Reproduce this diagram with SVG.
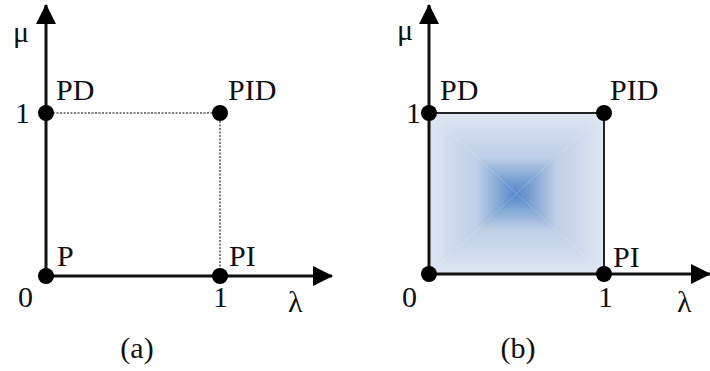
<svg xmlns="http://www.w3.org/2000/svg" width="710" height="371" viewBox="0 0 710 371">
<style>
text{font-family:"Liberation Serif","Times New Roman",Times,serif;font-size:30px;fill:#111}
.ax{stroke:#111;stroke-width:3;fill:none}
.dot{fill:#000}
.dotted{stroke:#555;stroke-width:1.5;stroke-dasharray:2 1.5;fill:none}
.edge{stroke:#222;stroke-width:2;fill:none}
</style>
<defs>
<marker id="arr" viewBox="0 0 20 20" refX="19" refY="10" markerWidth="20" markerHeight="20" markerUnits="userSpaceOnUse" orient="auto">
<path d="M0,0 L20,10 L0,20 Z" fill="#000"/>
</marker>
<linearGradient id="gT" gradientUnits="userSpaceOnUse" x1="0" y1="113" x2="0" y2="193.5"><stop offset="0" stop-color="#dfe7f2"/><stop offset="0.55" stop-color="#bfcfe6"/><stop offset="1" stop-color="#5287c8"/></linearGradient>
<linearGradient id="gB" gradientUnits="userSpaceOnUse" x1="0" y1="274" x2="0" y2="193.5"><stop offset="0" stop-color="#dfe7f2"/><stop offset="0.55" stop-color="#bfcfe6"/><stop offset="1" stop-color="#5287c8"/></linearGradient>
<linearGradient id="gL" gradientUnits="userSpaceOnUse" x1="429" y1="0" x2="516.5" y2="0"><stop offset="0" stop-color="#dfe7f2"/><stop offset="0.55" stop-color="#bfcfe6"/><stop offset="1" stop-color="#5287c8"/></linearGradient>
<linearGradient id="gR" gradientUnits="userSpaceOnUse" x1="604" y1="0" x2="516.5" y2="0"><stop offset="0" stop-color="#dfe7f2"/><stop offset="0.55" stop-color="#bfcfe6"/><stop offset="1" stop-color="#5287c8"/></linearGradient>
</defs>

<!-- Panel (a) -->
<g id="connectors-a">
<line class="ax" x1="46" y1="276" x2="46" y2="5" marker-end="url(#arr)"/>
<line class="ax" x1="46" y1="276" x2="332" y2="276" marker-end="url(#arr)"/>
<polyline class="dotted" points="46,113 220,113 220,276"/>
</g>
<g id="node-a-P"><circle class="dot" cx="46" cy="276" r="8"/><text x="57" y="266" font-family="Liberation Serif, serif">P</text></g>
<g id="node-a-PI"><circle class="dot" cx="220" cy="276" r="8"/><text x="229" y="266">PI</text></g>
<g id="node-a-PD"><circle class="dot" cx="46" cy="113" r="8"/><text x="56" y="100">PD</text></g>
<g id="node-a-PID"><circle class="dot" cx="220" cy="113" r="8"/><text x="228" y="100">PID</text></g>
<g id="labels-a">
<text x="13" y="42">μ</text>
<text x="15" y="123">1</text>
<text x="18" y="307">0</text>
<text x="213" y="307">1</text>
<text x="288" y="312">λ</text>
<text x="137" y="358" text-anchor="middle">(a)</text>
</g>

<!-- Panel (b) -->
<g id="region-b">
<polygon points="429,113 604,113 516.5,193.5" fill="url(#gT)"/>
<polygon points="429,274 604,274 516.5,193.5" fill="url(#gB)"/>
<polygon points="429,113 429,274 516.5,193.5" fill="url(#gL)"/>
<polygon points="604,113 604,274 516.5,193.5" fill="url(#gR)"/>
</g>
<g id="connectors-b">
<line class="ax" x1="429" y1="274" x2="429" y2="5" marker-end="url(#arr)"/>
<line class="ax" x1="429" y1="274" x2="710" y2="274" marker-end="url(#arr)"/>
<polyline class="edge" points="429,113 604,113 604,274"/>
</g>
<g id="node-b-P"><circle class="dot" cx="429" cy="274" r="8"/></g>
<g id="node-b-PI"><circle class="dot" cx="604" cy="274" r="8"/><text x="613" y="267">PI</text></g>
<g id="node-b-PD"><circle class="dot" cx="429" cy="113" r="8"/><text x="440" y="100">PD</text></g>
<g id="node-b-PID"><circle class="dot" cx="604" cy="113" r="8"/><text x="610" y="100">PID</text></g>
<g id="labels-b">
<text x="397" y="40">μ</text>
<text x="406" y="123">1</text>
<text x="402" y="307">0</text>
<text x="598" y="307">1</text>
<text x="677" y="312">λ</text>
<text x="518" y="358" text-anchor="middle">(b)</text>
</g>
</svg>
